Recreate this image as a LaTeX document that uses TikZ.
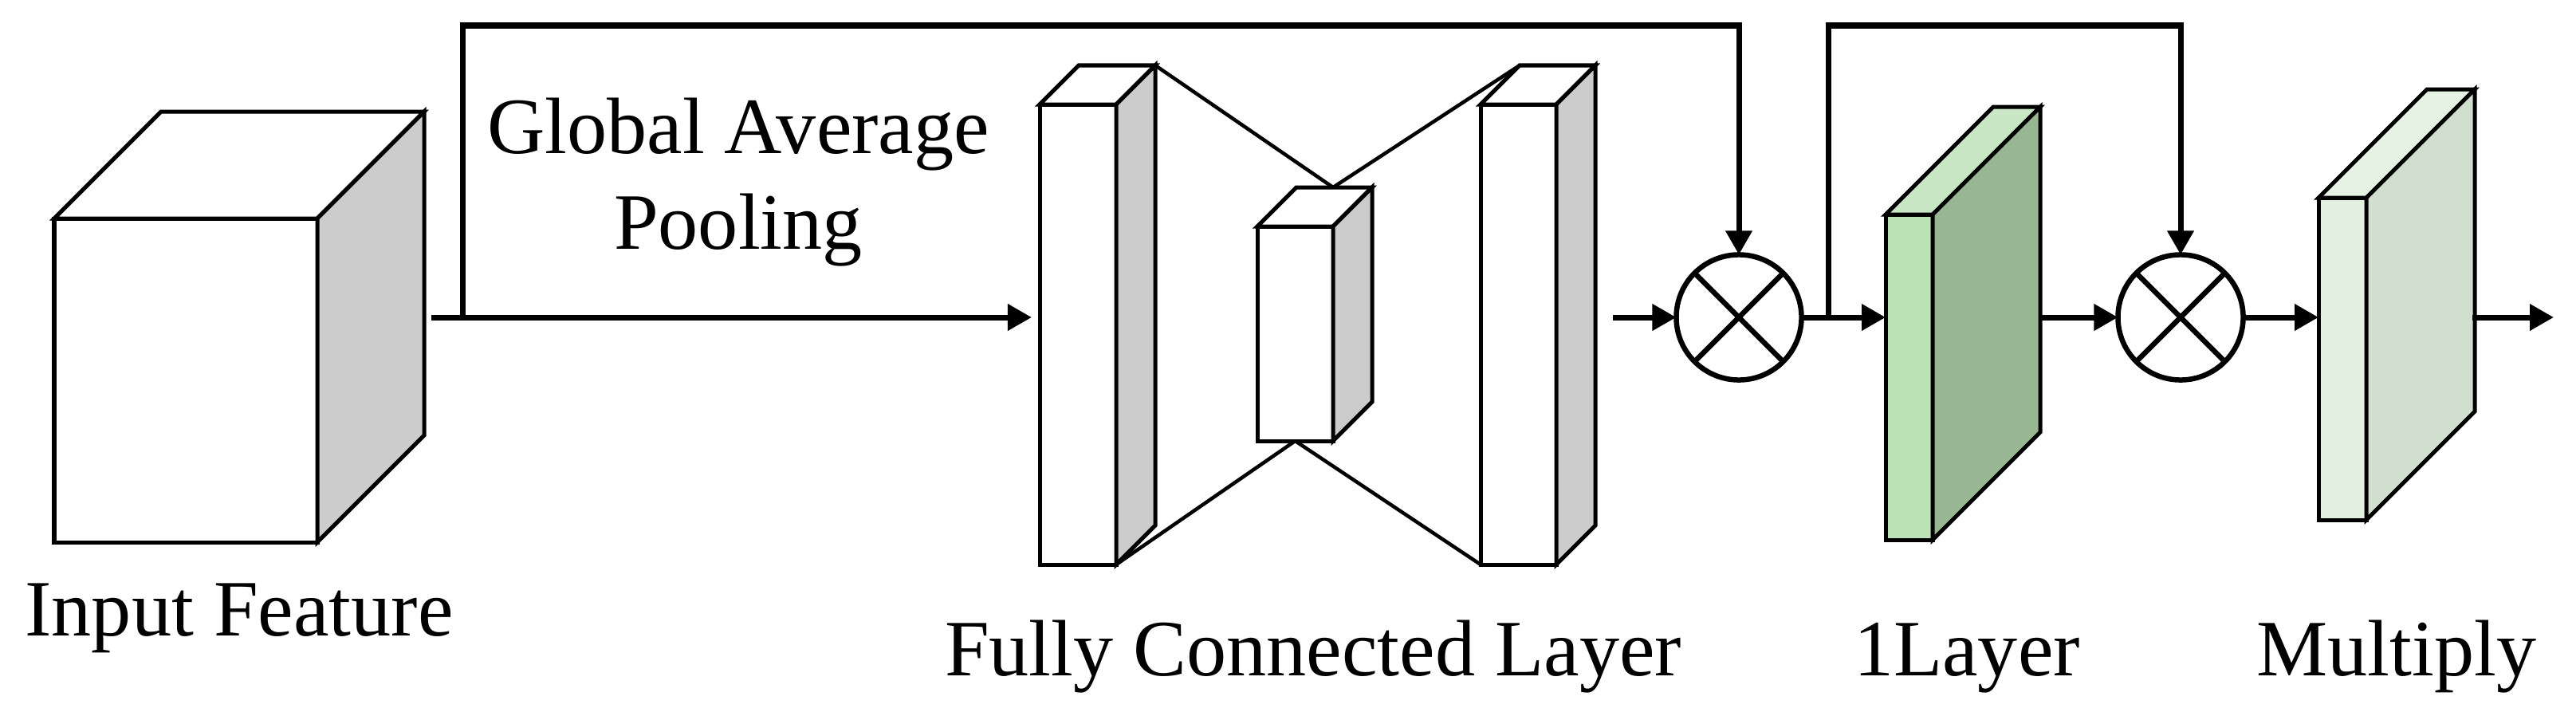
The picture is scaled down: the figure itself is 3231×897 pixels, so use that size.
\documentclass[tikz,border=0pt]{standalone}
\usepackage{fontspec}
\setmainfont{Liberation Serif}
\usetikzlibrary{arrows.meta,calc}
\definecolor{sidegray}{HTML}{CCCCCC}
\definecolor{gafront}{HTML}{BBE1B5}
\definecolor{gatop}{HTML}{C9E7C4}
\definecolor{gaside}{HTML}{97B691}
\definecolor{gbfront}{HTML}{E1F0DF}
\definecolor{gbtop}{HTML}{E6F2E4}
\definecolor{gbside}{HTML}{D0DFCE}
\tikzset{
  face/.style={draw=black, line width=0.05cm, line join=miter},
  frontface/.style={draw=black, line width=0.05cm, inner sep=0pt, outer sep=0pt, anchor=north west},
  conn/.style={line width=0.07cm},
  thinline/.style={line width=0.045cm},
  arr/.style={conn, -{Triangle[length=0.30cm, width=0.32cm]}},
  mult/.style={circle, draw=black, fill=white, line width=0.065cm, minimum size=1.57cm, inner sep=0pt, outer sep=0pt},
  lbl/.style={font=\fontsize{28.5}{34}\selectfont, inner sep=0pt}
}
% name, x, y, w, h, depth, front, top, side
\newcommand{\mkblock}[9]{%
  \node[frontface, fill=#7, minimum width=#4*0.01cm, minimum height=#5*0.01cm] (#1) at (#2,#3) {};
  \filldraw[face, fill=#8] (#1.north west) -- ++(#6,-#6) -- ++(#4,0) -- (#1.north east) -- cycle;
  \filldraw[face, fill=#9] (#1.north east) -- ++(#6,-#6) -- ++(0,#5) -- (#1.south east) -- cycle;
}
\begin{document}
\begin{tikzpicture}[x=0.01cm, y=-0.01cm]
\useasboundingbox (0,0) rectangle (3231,897);
\fill[white] (0,0) rectangle (3231,897);

% blocks
\mkblock{cube}{68}{274}{330}{406}{134}{white}{white}{sidegray}
\mkblock{fca}{1304}{131}{96}{577}{49}{white}{white}{sidegray}
\mkblock{fcb}{1577}{284}{95}{269}{49}{white}{white}{sidegray}
\mkblock{fcc}{1857}{131}{95}{577}{49}{white}{white}{sidegray}
\mkblock{ga}{2365}{269}{59}{408}{135}{gafront}{gatop}{gaside}
\mkblock{gb}{2908}{248}{60}{404}{136}{gbfront}{gbtop}{gbside}

% fully connected links
\coordinate (fcbtop) at ($(fcb.north east)+(0,-49)$);
\draw[thinline] ($(fca.north east)+(49,-49)$) -- (fcbtop);
\draw[thinline] ($(fcc.north west)+(49,-49)$) -- (fcbtop);
\draw[thinline] (fca.south east) -- (fcb.south);
\draw[thinline] (fcb.south) -- (fcc.south west);

% multiply nodes
\node[mult] (ma) at (2181,398) {};
\node[mult] (mb) at (2735,398) {};
\foreach \m in {ma,mb}{
  \draw[line width=0.065cm] (\m.45) -- (\m.225) (\m.135) -- (\m.315);
}

% connectors
\coordinate (topy) at (0,32);
\coordinate (cubeout) at (541,398);
\coordinate (bra) at (580,398);
\coordinate (ina) at (2023,398);
\coordinate (brb) at (2293,398);
\coordinate (gaout) at (2557,398);
\coordinate (gbout) at (3101,398);
\coordinate (fin) at (3203,398);

\draw[arr, shorten >=0.1cm] (cubeout) -- (cubeout -| fca.west);
\draw[arr] (bra) -- (bra |- topy) -| (ma.north);
\draw[arr] (ina) -- (ma.west);
\draw[arr] (ma.east) -- (ma.east -| ga.west);
\draw[arr] (brb) -- (brb |- topy) -| (mb.north);
\draw[arr] (gaout) -- (mb.west);
\draw[arr] (mb.east) -- (mb.east -| gb.west);
\draw[arr] (gbout) -- (fin);

% labels
\node[lbl, anchor=base] (linput) at (300,797) {Input Feature};
\node[lbl, anchor=base, align=center] (lgap) at (926,312) {Global Average\\Pooling};
\node[lbl, anchor=base] (lfc) at (1647,847) {Fully Connected Layer};
\node[lbl, anchor=base] (lone) at (2467,847) {1Layer};
\node[lbl, anchor=base] (lmul) at (3006,847) {Multiply};
\end{tikzpicture}
\end{document}
